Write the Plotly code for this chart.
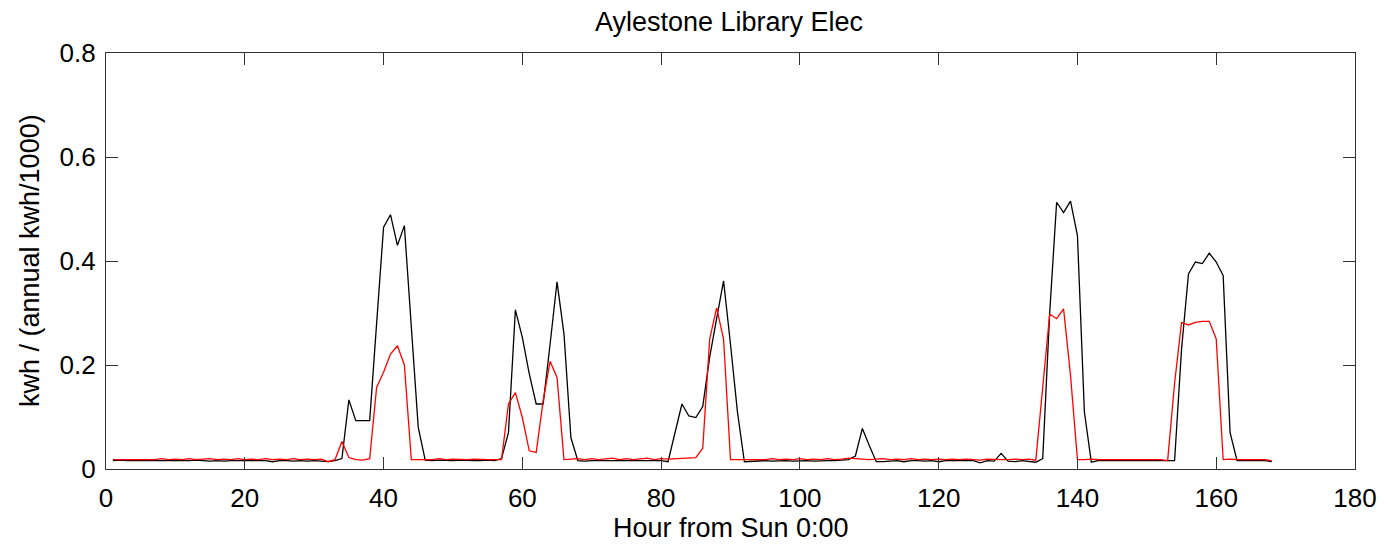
import plotly.graph_objects as go

# Hourly load profile over one week, normalised by annual consumption
hours = list(range(1, 169))

black_profile = [
    0.016, 0.017, 0.016, 0.016, 0.015, 0.016, 0.016, 0.015, 0.016, 0.016,
    0.015, 0.016, 0.017, 0.016, 0.015, 0.016, 0.015, 0.016, 0.016, 0.015,
    0.016, 0.015, 0.016, 0.014, 0.016, 0.016, 0.015, 0.016, 0.015, 0.016,
    0.015, 0.014, 0.016, 0.020, 0.133, 0.093, 0.093, 0.093, 0.280, 0.465,
    0.489, 0.430, 0.468, 0.276, 0.080, 0.017, 0.016, 0.017, 0.016, 0.016,
    0.017, 0.016, 0.016, 0.016, 0.017, 0.016, 0.020, 0.070, 0.306, 0.253,
    0.183, 0.125, 0.125, 0.240, 0.360, 0.260, 0.060, 0.016, 0.015, 0.016,
    0.016, 0.015, 0.016, 0.016, 0.015, 0.016, 0.016, 0.015, 0.016, 0.016,
    0.014, 0.068, 0.125, 0.102, 0.099, 0.120, 0.215, 0.289, 0.362, 0.240,
    0.110, 0.014, 0.015, 0.016, 0.016, 0.015, 0.016, 0.016, 0.015, 0.016,
    0.016, 0.015, 0.016, 0.016, 0.016, 0.017, 0.018, 0.025, 0.078, 0.045,
    0.014, 0.014, 0.015, 0.016, 0.014, 0.016, 0.016, 0.015, 0.016, 0.014,
    0.016, 0.016, 0.015, 0.016, 0.016, 0.012, 0.016, 0.015, 0.030, 0.015,
    0.014, 0.016, 0.015, 0.013, 0.020, 0.300, 0.513, 0.493, 0.515, 0.449,
    0.110, 0.013, 0.016, 0.016, 0.015, 0.016, 0.016, 0.016, 0.016, 0.016,
    0.016, 0.016, 0.015, 0.016, 0.230, 0.375, 0.398, 0.395, 0.415, 0.398,
    0.372, 0.070, 0.016, 0.016, 0.016, 0.015, 0.016, 0.014,
]

red_profile = [
    0.018, 0.018, 0.019, 0.018, 0.018, 0.019, 0.018, 0.020, 0.018, 0.019,
    0.018, 0.020, 0.018, 0.019, 0.020, 0.018, 0.019, 0.018, 0.020, 0.018,
    0.019, 0.018, 0.020, 0.018, 0.019, 0.018, 0.020, 0.018, 0.019, 0.018,
    0.019, 0.014, 0.018, 0.053, 0.022, 0.018, 0.017, 0.020, 0.157, 0.186,
    0.221, 0.237, 0.200, 0.018, 0.018, 0.019, 0.018, 0.020, 0.018, 0.019,
    0.018, 0.018, 0.019, 0.018, 0.018, 0.018, 0.018, 0.125, 0.147, 0.099,
    0.035, 0.032, 0.131, 0.207, 0.176, 0.018, 0.019, 0.020, 0.018, 0.020,
    0.018, 0.019, 0.021, 0.018, 0.020, 0.018, 0.019, 0.021, 0.018, 0.020,
    0.019, 0.020, 0.020, 0.021, 0.022, 0.040, 0.250, 0.310, 0.250, 0.018,
    0.018, 0.019, 0.018, 0.019, 0.018, 0.020, 0.018, 0.019, 0.018, 0.020,
    0.018, 0.019, 0.018, 0.020, 0.018, 0.019, 0.021, 0.020, 0.019, 0.018,
    0.019, 0.020, 0.018, 0.019, 0.018, 0.020, 0.018, 0.019, 0.018, 0.019,
    0.018, 0.019, 0.018, 0.019, 0.018, 0.017, 0.019, 0.018, 0.018, 0.018,
    0.019, 0.018, 0.019, 0.017, 0.165, 0.298, 0.289, 0.308, 0.180, 0.018,
    0.018, 0.019, 0.018, 0.018, 0.019, 0.018, 0.018, 0.018, 0.018, 0.018,
    0.018, 0.018, 0.016, 0.165, 0.282, 0.277, 0.282, 0.284, 0.284, 0.250,
    0.018, 0.019, 0.018, 0.018, 0.019, 0.018, 0.018, 0.016,
]

x_ticks = [0, 20, 40, 60, 80, 100, 120, 140, 160, 180]
y_ticks = [0, 0.2, 0.4, 0.6, 0.8]
y_tick_labels = ["0", "0.2", "0.4", "0.6", "0.8"]

FONT = "Liberation Sans, Arial, sans-serif"

fig = go.Figure()
fig.add_trace(go.Scatter(x=hours, y=black_profile, mode="lines",
                         line=dict(color="#000000", width=1.3),
                         showlegend=False))
fig.add_trace(go.Scatter(x=hours, y=red_profile, mode="lines",
                         line=dict(color="#ff0000", width=1.3),
                         showlegend=False))

axis_common = dict(
    showgrid=False, zeroline=False,
    showline=True, linecolor="#333333", linewidth=1.2,
    mirror="ticks", ticks="inside", ticklen=12, tickwidth=1.2,
    tickcolor="#333333",
    tickfont=dict(family=FONT, size=26, color="#000000"),
)

fig.update_xaxes(range=[0, 180], tickvals=x_ticks, ticklabelstandoff=6,
                 **axis_common)
fig.update_yaxes(range=[0, 0.8], tickvals=y_ticks, ticktext=y_tick_labels,
                 ticklabelstandoff=4, **axis_common)

fig.update_layout(
    width=1389, height=546,
    margin=dict(l=106, r=28, t=53, b=77),
    paper_bgcolor="#ffffff", plot_bgcolor="#ffffff",
    title=dict(text="Aylestone Library Elec", x=729 / 1389, xanchor="center",
               y=1 - 22 / 546, yanchor="middle", yref="container",
               font=dict(family=FONT, size=27, color="#000000")),
    annotations=[
        dict(text="Hour from Sun 0:00", xref="paper", yref="paper",
             x=0.5, y=0, yshift=-59, xanchor="center", yanchor="middle",
             showarrow=False,
             font=dict(family=FONT, size=27, color="#000000")),
        dict(text="kwh / (annual kwh/1000)", xref="paper", yref="paper",
             x=0, y=0.5, xshift=-76, xanchor="center", yanchor="middle",
             textangle=-90, showarrow=False,
             font=dict(family=FONT, size=27, color="#000000")),
    ],
)

fig.write_html("out.html")
